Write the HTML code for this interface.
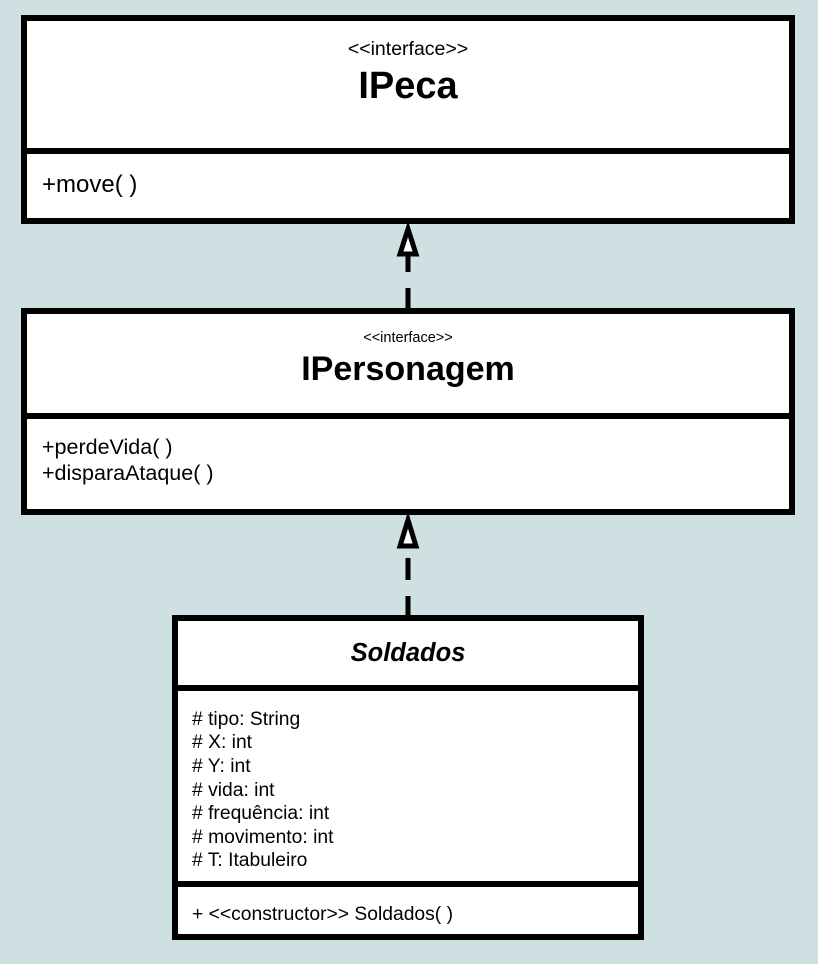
<!DOCTYPE html>
<html><head><style>
body{margin:0;background:#cfe0e3;}
svg{display:block}
text{font-family:"Liberation Sans",sans-serif;fill:#000}
</style></head><body>
<svg width="818" height="964" viewBox="0 0 818 964">
<rect width="818" height="964" fill="#cfe0e3"/>
<g stroke="#000" stroke-width="6" fill="#fff">
<rect x="24" y="18" width="768" height="203"/>
<line x1="24" y1="151" x2="792" y2="151"/>
<rect x="24" y="311" width="768" height="201"/>
<line x1="24" y1="416" x2="792" y2="416"/>
<rect x="175" y="618" width="466" height="319"/>
<line x1="175" y1="688" x2="641" y2="688"/>
<line x1="175" y1="884" x2="641" y2="884"/>
</g>
<g stroke="#000" stroke-width="5" fill="none">
<line x1="408" y1="253" x2="408" y2="272"/>
<line x1="408" y1="288" x2="408" y2="309"/>
<polygon points="408,229 400,254 416,254" fill="#fff"/>
<line x1="408" y1="558" x2="408" y2="580"/>
<line x1="408" y1="596" x2="408" y2="616"/>
<polygon points="408,520 400,546 416,546" fill="#fff"/>
</g>
<text x="408" y="55" font-size="19.5" text-anchor="middle">&lt;&lt;interface&gt;&gt;</text>
<text x="408" y="98" font-size="38" font-weight="bold" text-anchor="middle">IPeca</text>
<text x="42" y="192" font-size="24">+move( )</text>
<text x="408" y="342" font-size="14.5" text-anchor="middle">&lt;&lt;interface&gt;&gt;</text>
<text x="408" y="380" font-size="34" font-weight="bold" text-anchor="middle">IPersonagem</text>
<text x="42" y="454" font-size="21.5">+perdeVida( )</text>
<text x="42" y="480" font-size="21.5">+disparaAtaque( )</text>
<text x="408" y="661" font-size="25.5" font-weight="bold" font-style="italic" text-anchor="middle">Soldados</text>
<g font-size="19.3">
<text x="192" y="725">#  tipo: String</text>
<text x="192" y="748">#  X: int</text>
<text x="192" y="772">#  Y: int</text>
<text x="192" y="796">#  vida: int</text>
<text x="192" y="819">#  frequência: int</text>
<text x="192" y="843">#  movimento: int</text>
<text x="192" y="866">#  T: Itabuleiro</text>
<text x="192" y="920">+ &lt;&lt;constructor&gt;&gt; Soldados( )</text>
</g>
</svg>
</body></html>
